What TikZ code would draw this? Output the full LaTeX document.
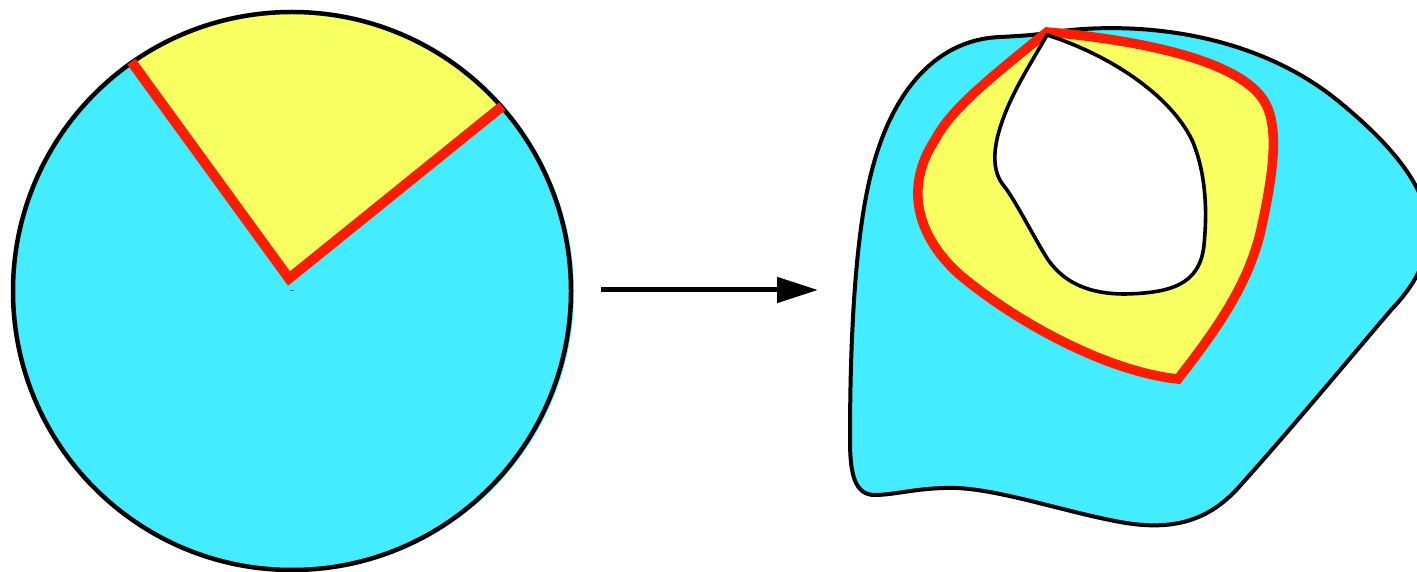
\documentclass[tikz,border=0pt]{standalone}
\usetikzlibrary{arrows.meta}
\definecolor{fillcyan}{RGB}{67,236,255}
\definecolor{fillyellow}{RGB}{248,255,96}
\definecolor{edgered}{RGB}{255,28,0}
\definecolor{markteal}{RGB}{40,120,140}
\tikzset{
  outline/.style={draw=black,line width=4pt},
  redline/.style={draw=edgered,line width=9.5pt},
  flowarrow/.style={line width=5pt,-{Triangle[length=41pt,width=25pt]}},
}
\begin{document}
\begin{tikzpicture}[x=1pt,y=1pt]
\useasboundingbox (0,0) rectangle (1417,571);
\clip (0,0) rectangle (1417,571);
% ---------- left disc ----------
\coordinate (C) at (292,280);
\coordinate (P) at (289,292.5);
\fill[fillcyan] (295,279) circle[radius=279];
\fill[fillcyan] (C) circle[radius=279];
\fill[fillyellow] (P) -- ([shift={(125:279)}]C) arc[start angle=125,end angle=41.3,radius=279] -- cycle;
\draw[outline,line width=4.5pt] (C) circle[radius=279];
\draw[markteal,line width=1pt] (290,280) -- (294,280);
\draw[redline,line width=10pt] ([shift={(125:280)}]C) -- (P) -- ([shift={(41.3:280)}]C);
% ---------- arrow ----------
\coordinate (as) at (601,281);
\coordinate (ae) at (818,281);
\draw[flowarrow] (as) -- (ae);
% ---------- right blob (image coordinates, y down) ----------
\begin{scope}[shift={(0,571)},yscale=-1]
\filldraw[fill=fillcyan,outline]
 (1047,33) .. controls (1130,20) and (1250,30) .. (1337,100)
 .. controls (1380,135) and (1425,180) .. (1428,225)
 .. controls (1431,262) and (1410,290) .. (1391,310)
 .. controls (1340,370) and (1290,430) .. (1239,487)
 .. controls (1205,525) and (1165,532) .. (1110,520)
 .. controls (1060,510) and (1000,490) .. (957,488)
 .. controls (920,487) and (895,495) .. (875,495)
 .. controls (855,495) and (850,475) .. (850,440)
 .. controls (850,330) and (856,230) .. (872,170)
 .. controls (890,100) and (930,40) .. (1000,37)
 .. controls (1020,36) and (1035,35) .. (1047,33) -- cycle;
% yellow region
\filldraw[fill=fillyellow,redline,line join=miter]
 (1047,32) .. controls (1140,40) and (1235,60) .. (1262,98)
 .. controls (1280,122) and (1274,170) .. (1262,225)
 .. controls (1250,285) and (1212,335) .. (1178,379)
 .. controls (1110,372) and (1020,325) .. (960,275)
 .. controls (915,235) and (905,185) .. (935,140)
 .. controls (950,110) and (990,78) .. (1047,32) -- cycle;
% white hole
\filldraw[fill=white,outline,line width=3.6pt,line join=miter]
 (1047,35) .. controls (1110,55) and (1170,95) .. (1192,140)
 .. controls (1207,175) and (1207,215) .. (1204,245)
 .. controls (1200,285) and (1170,293) .. (1125,294)
 .. controls (1085,294) and (1060,280) .. (1045,255)
 .. controls (1030,230) and (1015,200) .. (1004,186)
 .. controls (992,172) and (993,150) .. (1000,128)
 .. controls (1010,95) and (1030,65) .. (1047,35) -- cycle;
\end{scope}
\end{tikzpicture}
\end{document}
